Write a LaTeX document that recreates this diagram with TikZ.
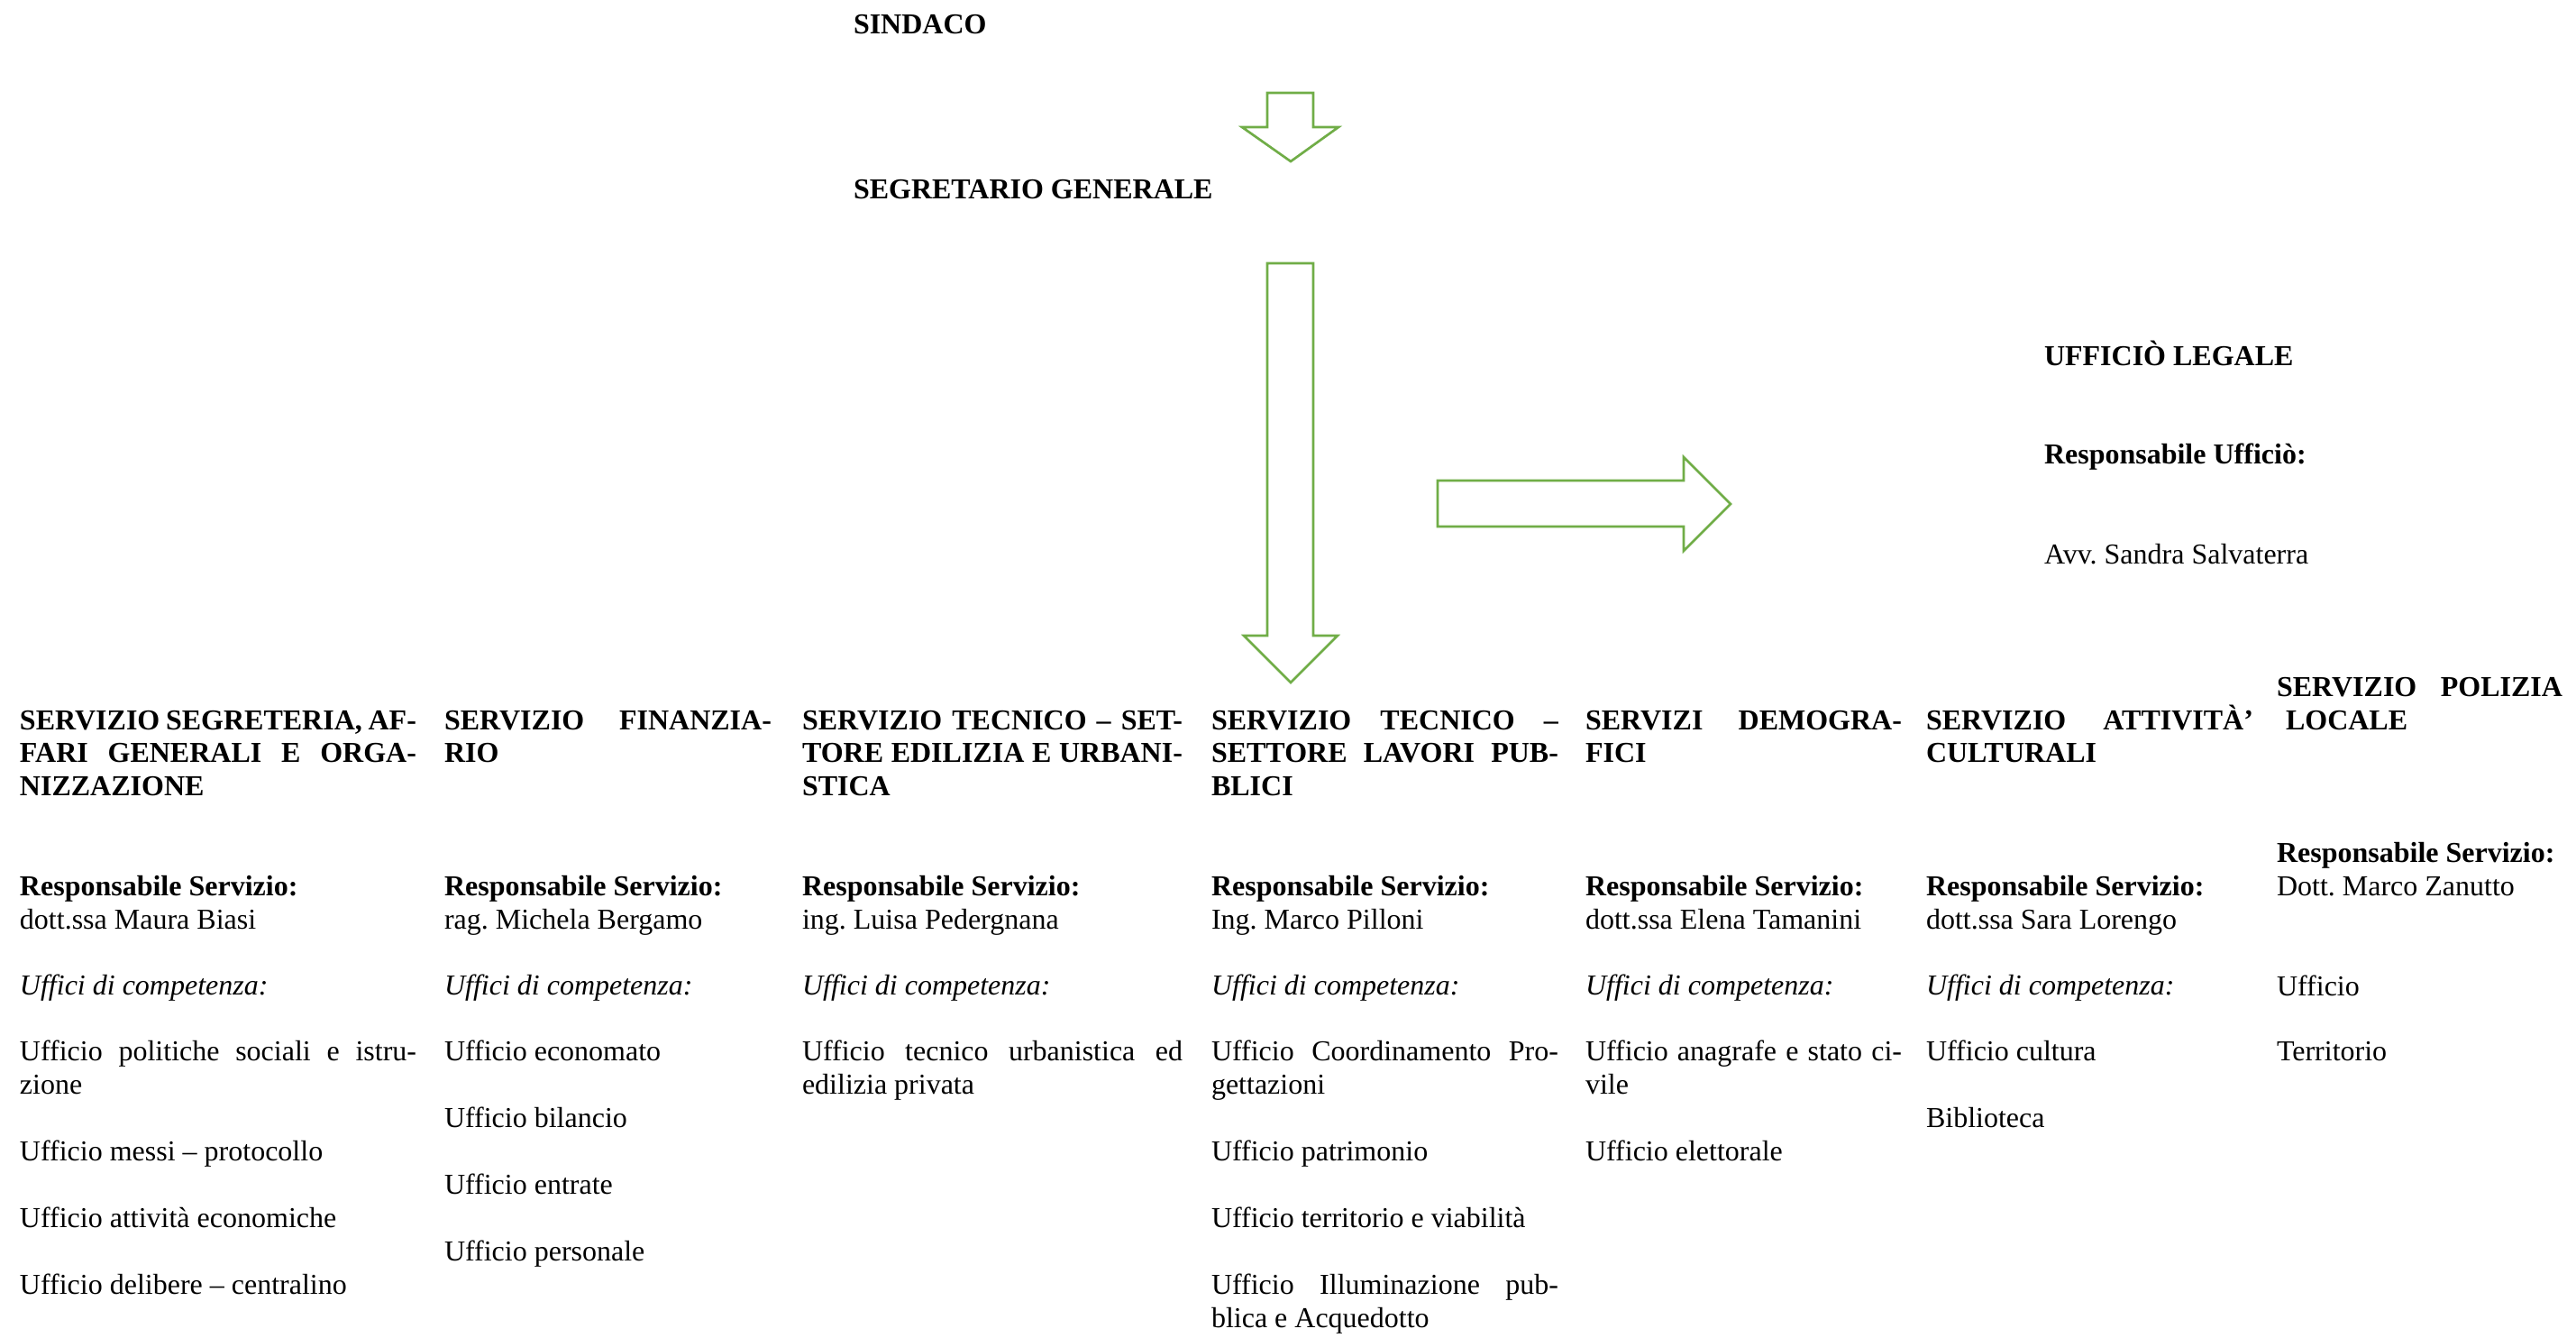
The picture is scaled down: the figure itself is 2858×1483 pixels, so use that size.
\documentclass[tikz,border=0pt]{standalone}
\usepackage{fontspec}
\setmainfont{Liberation Serif}
\frenchspacing
\definecolor{arrowgreen}{HTML}{70AD47}
\newdimen\unitpx \unitpx=0.375pt
\tikzset{
  txt/.style={anchor=base west, inner sep=0pt, outer sep=0pt, font=\fontsize{12}{13.875}\selectfont\frenchspacing},
  hd/.style={txt, font=\fontsize{12}{13.875}\selectfont\frenchspacing\bfseries},
  it/.style={txt, font=\fontsize{12}{13.875}\selectfont\frenchspacing\itshape},
  blockarrow/.style={draw=arrowgreen, line width=1pt, line join=miter, fill=white}
}
\newcommand\TL[5][txt]{\node[#1] (#2) at (#3,#4) {#5};}
\newcommand\JL[6][txt]{\node[#1] (#2) at (#3,#4) {\makebox[#5\unitpx][s]{#6}};}
\begin{document}
\begin{tikzpicture}[x=0.375pt, y=-0.375pt]
\useasboundingbox[fill=white] (0,0) rectangle (2858,1483);

% block arrows
\draw[blockarrow] (1406,103) -- (1457,103) -- (1457,141) -- (1485,141) -- (1432,179) -- (1378,141) -- (1406,141) -- cycle;
\draw[blockarrow] (1406,292) -- (1457,292) -- (1457,705) -- (1484,705) -- (1432,757) -- (1380,705) -- (1406,705) -- cycle;
\draw[blockarrow] (1595,533) -- (1868,533) -- (1868,507) -- (1920,559) -- (1868,611) -- (1868,584) -- (1595,584) -- cycle;

% top
\TL[hd]{sindaco}{947}{37}{SINDACO}
\TL[hd]{segr}{947}{220}{SEGRETARIO GENERALE}
\TL[hd]{legale}{2268}{405}{UFFICIÒ LEGALE}
\TL[hd]{legresp}{2268}{514}{Responsabile Ufficiò:}
\TL{legname}{2268}{625}{Avv. Sandra Salvaterra}

% column 1
\JL[hd]{c1h1}{22}{809}{440}{SERVIZIO SEGRETERIA, AF-}
\JL[hd]{c1h2}{22}{845}{440}{FARI GENERALI E ORGA-}
\TL[hd]{c1h3}{22}{882}{NIZZAZIONE}
\TL[hd]{c1r}{22}{993}{Responsabile Servizio:}
\TL{c1n}{22}{1030}{dott.ssa Maura Biasi}
\TL[it]{c1u}{22}{1103}{Uffici di competenza:}
\JL{c1a}{22}{1176}{440}{Ufficio politiche sociali e istru-}
\TL{c1a2}{22}{1213}{zione}
\TL{c1b}{22}{1287}{Ufficio messi – protocollo}
\TL{c1c}{22}{1361}{Ufficio attività economiche}
\TL{c1d}{22}{1435}{Ufficio delibere – centralino}

% column 2
\JL[hd]{c2h1}{493}{809}{363}{SERVIZIO FINANZIA-}
\TL[hd]{c2h2}{493}{845}{RIO}
\TL[hd]{c2r}{493}{993}{Responsabile Servizio:}
\TL{c2n}{493}{1030}{rag. Michela Bergamo}
\TL[it]{c2u}{493}{1103}{Uffici di competenza:}
\TL{c2a}{493}{1176}{Ufficio economato}
\TL{c2b}{493}{1250}{Ufficio bilancio}
\TL{c2c}{493}{1324}{Ufficio entrate}
\TL{c2d}{493}{1398}{Ufficio personale}

% column 3
\JL[hd]{c3h1}{890}{809}{422}{SERVIZIO TECNICO – SET-}
\JL[hd]{c3h2}{890}{845}{422}{TORE EDILIZIA E URBANI-}
\TL[hd]{c3h3}{890}{882}{STICA}
\TL[hd]{c3r}{890}{993}{Responsabile Servizio:}
\TL{c3n}{890}{1030}{ing. Luisa Pedergnana}
\TL[it]{c3u}{890}{1103}{Uffici di competenza:}
\JL{c3a}{890}{1176}{422}{Ufficio tecnico urbanistica ed}
\TL{c3a2}{890}{1213}{edilizia privata}

% column 4
\JL[hd]{c4h1}{1344}{809}{385}{SERVIZIO TECNICO –}
\JL[hd]{c4h2}{1344}{845}{385}{SETTORE LAVORI PUB-}
\TL[hd]{c4h3}{1344}{882}{BLICI}
\TL[hd]{c4r}{1344}{993}{Responsabile Servizio:}
\TL{c4n}{1344}{1030}{Ing. Marco Pilloni}
\TL[it]{c4u}{1344}{1103}{Uffici di competenza:}
\JL{c4a}{1344}{1176}{385}{Ufficio Coordinamento Pro-}
\TL{c4a2}{1344}{1213}{gettazioni}
\TL{c4b}{1344}{1287}{Ufficio patrimonio}
\TL{c4c}{1344}{1361}{Ufficio territorio e viabilità}
\JL{c4d}{1344}{1435}{385}{Ufficio Illuminazione pub-}
\TL{c4d2}{1344}{1472}{blica e Acquedotto}

% column 5
\JL[hd]{c5h1}{1759}{809}{351}{SERVIZI DEMOGRA-}
\TL[hd]{c5h2}{1759}{845}{FICI}
\TL[hd]{c5r}{1759}{993}{Responsabile Servizio:}
\TL{c5n}{1759}{1030}{dott.ssa Elena Tamanini}
\TL[it]{c5u}{1759}{1103}{Uffici di competenza:}
\JL{c5a}{1759}{1176}{351}{Ufficio anagrafe e stato ci-}
\TL{c5a2}{1759}{1213}{vile}
\TL{c5b}{1759}{1287}{Ufficio elettorale}

% column 6
\JL[hd]{c6h1}{2137}{809}{363}{SERVIZIO ATTIVITÀ’}
\TL[hd]{c6h2}{2137}{845}{CULTURALI}
\TL[hd]{c6r}{2137}{993}{Responsabile Servizio:}
\TL{c6n}{2137}{1030}{dott.ssa Sara Lorengo}
\TL[it]{c6u}{2137}{1103}{Uffici di competenza:}
\TL{c6a}{2137}{1176}{Ufficio cultura}
\TL{c6b}{2137}{1250}{Biblioteca}

% column 7
\JL[hd]{c7h1}{2526}{772}{317}{SERVIZIO POLIZIA}
\TL[hd]{c7h2}{2536}{809}{LOCALE}
\TL[hd]{c7r}{2526}{956}{Responsabile Servizio:}
\TL{c7n}{2526}{993}{Dott. Marco Zanutto}
\TL{c7a}{2526}{1104}{Ufficio}
\TL{c7b}{2526}{1176}{Territorio}
\end{tikzpicture}
\end{document}
